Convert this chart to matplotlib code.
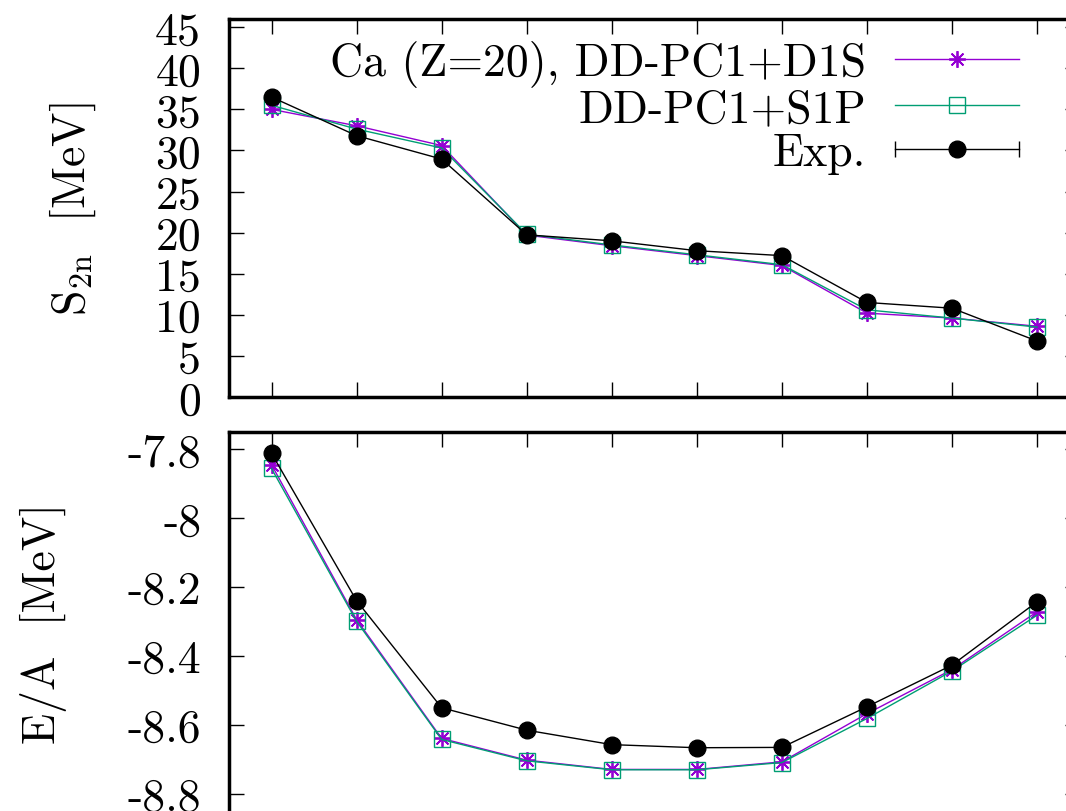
import numpy as np
import matplotlib
matplotlib.use('Agg')
import matplotlib.pyplot as plt
from matplotlib.lines import Line2D
from matplotlib.legend_handler import HandlerLine2D, HandlerTuple

plt.rcParams['font.family'] = ['cmr10', 'DejaVu Serif']
plt.rcParams['mathtext.fontset'] = 'cm'
plt.rcParams['axes.unicode_minus'] = False

# mass number of Ca isotopes
A = np.array([36, 38, 40, 42, 44, 46, 48, 50, 52, 54])

# two-neutron separation energies [MeV]
s2n_d1s = [35.0, 33.0, 30.6, 19.7, 18.4, 17.2, 16.0, 10.2, 9.6, 8.6]
s2n_s1p = [35.5, 32.6, 30.3, 19.8, 18.5, 17.3, 16.1, 10.6, 9.6, 8.5]
s2n_exp = [36.5, 31.8, 28.95, 19.73, 19.0, 17.8, 17.2, 11.5, 10.8, 6.8]

# binding energy per nucleon [MeV]
ea_d1s = [-7.845, -8.295, -8.640, -8.703, -8.730, -8.730, -8.708, -8.568, -8.440, -8.272]
ea_s1p = [-7.856, -8.300, -8.643, -8.705, -8.731, -8.731, -8.710, -8.582, -8.444, -8.282]
ea_exp = [-7.812, -8.240, -8.551, -8.616, -8.658, -8.667, -8.666, -8.548, -8.427, -8.243]

purple = '#9400D3'
green = '#009E73'
fs = 33

fig = plt.figure(figsize=(10.66, 8.12), dpi=100)
ax1 = fig.add_axes([0.2148, 0.5099, 0.798, 0.4655])
ax2 = fig.add_axes([0.2148, -0.0209, 0.798, 0.4877])

star = (8, 2, 0)
for ax, d1s, s1p, exp in [(ax1, s2n_d1s, s2n_s1p, s2n_exp),
                          (ax2, ea_d1s, ea_s1p, ea_exp)]:
    h1, = ax.plot(A, d1s, color=purple, lw=1, marker=star, ms=12, mew=1.3)
    h2, = ax.plot(A, s1p, color=green, lw=1, marker='s', ms=11, mew=1,
                  mfc='none')
    h3, = ax.plot(A, exp, color='black', lw=1, marker='o', ms=12)
    ax.set_xlim(35, 55)
    ax.set_xticks(A)
    ax.set_xticklabels([])
    ax.tick_params(direction='in', length=11, width=1, top=True, right=True,
                   labelsize=fs, pad=20)
    for sp in ax.spines.values():
        sp.set_linewidth(2.5)

ax1.set_ylim(0, 46)
ax1.set_yticks(np.arange(0, 46, 5))
ax1.set_ylabel(r'S$_{\rm 2n}$  [MeV]', fontsize=fs)
ax1.yaxis.set_label_coords(-0.154, 0.5)

ax2.set_ylim(-8.9, -7.75)
ea_ticks = [-8.8, -8.6, -8.4, -8.2, -8.0, -7.8]
ax2.set_yticks(ea_ticks)
ax2.set_yticklabels(['%g' % t for t in ea_ticks])
ax2.set_ylabel('E/A  [MeV]', fontsize=fs)
ax2.yaxis.set_label_coords(-0.19, 0.52)

caps = Line2D([], [], color='black', lw=1, marker='|', ms=11, mew=1)
dot = Line2D([], [], color='black', ls='none', marker='o', ms=12)
ax1.legend([h1, h2, (caps, dot)],
           ['Ca (Z=20), DD-PC1+D1S', 'DD-PC1+S1P', 'Exp.'],
           handler_map={caps: HandlerLine2D(marker_pad=0, numpoints=2),
                        tuple: HandlerTuple(ndivide=1, pad=0)},
           loc='upper right', bbox_to_anchor=(0.929, 0.945), frameon=False,
           markerfirst=False, fontsize=fs, handlelength=2.7,
           handletextpad=0.64, labelspacing=0.045, borderaxespad=0,
           borderpad=0, numpoints=1)

fig.savefig('out.png', dpi=100)
